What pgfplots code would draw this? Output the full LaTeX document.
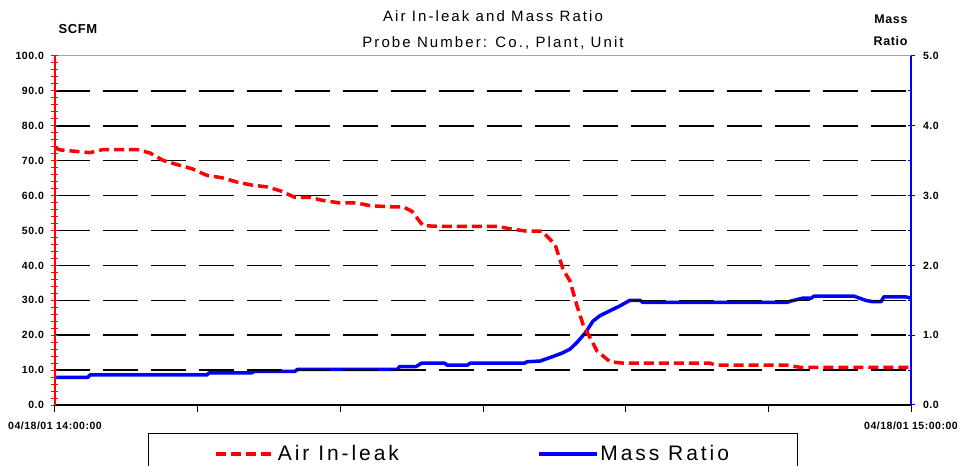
\documentclass[border=0pt]{standalone}
\usepackage{fontspec}
\setmainfont{Liberation Sans}
\newfontfamily\titlefont[LetterSpace=14]{Liberation Sans}
\newfontfamily\tickfont[LetterSpace=5]{Liberation Sans}
\newfontfamily\legfont[LetterSpace=14]{Liberation Sans}
\usepackage{pgfplots}
\pgfplotsset{compat=1.18}
\usetikzlibrary{calc}
\begin{document}
\begin{tikzpicture}
% ---------- right axis: Mass Ratio ----------
\begin{axis}[
  name=blueax,
  scale only axis, width=856pt, height=349pt,
  xmin=0, xmax=60, ymin=0, ymax=5,
  axis x line=none,
  axis y line*=right,
  y axis line style={blue, line width=1.6pt, -},
  ytick={0,1,2,3,4,5},
  minor ytick={0.5,1.5,2.5,3.5,4.5},
  tick align=center,
  major tick length=7pt,
  minor tick length=3pt,
  major y tick style={blue, line width=1pt},
  minor y tick style={blue, line width=1pt, xshift=-1.5pt},
  /pgf/number format/assume math mode=true,
  /pgf/number format/.cd, fixed, fixed zerofill, precision=1, /pgfplots/.cd,
  yticklabel style={font=\tickfont\bfseries\fontsize{10.5}{12}\selectfont, black, xshift=5pt},
  clip=false,
]
\addplot[blue, line width=3.5pt, line join=round] coordinates {
(0,0.395)(2.3,0.395)(2.45,0.43)(10.65,0.43)(10.8,0.46)(13.8,0.46)(13.95,0.48)(16.8,0.48)(17.0,0.51)(24.0,0.51)(24.15,0.55)(25.3,0.55)(25.7,0.60)(27.3,0.60)(27.5,0.57)(28.9,0.57)(29.1,0.60)(32.9,0.60)(33.1,0.62)(34.0,0.63)(34.7,0.68)(35.5,0.74)(36.1,0.80)(36.6,0.90)(37.2,1.04)(37.7,1.20)(38.2,1.28)(38.9,1.35)(39.6,1.42)(40.3,1.50)(41.0,1.50)(41.2,1.47)(51.3,1.47)(51.6,1.49)(52.4,1.53)(53.0,1.53)(53.2,1.56)(56.0,1.56)(56.4,1.53)(56.8,1.50)(57.3,1.48)(57.9,1.48)(58.1,1.55)(59.6,1.55)(60,1.53)
};
\end{axis}
% ---------- left axis: SCFM ----------
\begin{axis}[
  name=redax,
  scale only axis, width=856pt, height=349pt,
  xmin=0, xmax=60, ymin=0, ymax=100,
  axis x line*=bottom,
  axis y line*=left,
  x axis line style={black, line width=1.2pt, -},
  y axis line style={red, line width=1.6pt, -},
  xtick={0,10,20,30,40,50,60},
  xticklabels={04/18/01 14:00:00,,,,,,04/18/01 15:00:00},
  ytick={0,10,20,30,40,50,60,70,80,90},
  minor ytick={2,4,6,8,12,14,16,18,22,24,26,28,32,34,36,38,42,44,46,48,52,54,56,58,62,64,66,68,72,74,76,78,82,84,86,88,92,94,96,98},
  extra y ticks={100},
  extra y tick style={grid=major, major grid style={gray!70, solid, line width=1pt}},
  tick align=center,
  major tick length=7pt,
  minor tick length=7pt,
  major x tick style={black, line width=1pt, yshift=-3.5pt},
  major y tick style={red, line width=1pt},
  minor y tick style={red, line width=1pt},
  ymajorgrids,
  major grid style={black, line width=1.5pt, dash pattern=on 35pt off 13pt},
  /pgf/number format/assume math mode=true,
  /pgf/number format/.cd, fixed, fixed zerofill, precision=1, /pgfplots/.cd,
  yticklabel style={font=\tickfont\bfseries\fontsize{10.5}{12}\selectfont, black, xshift=-4pt},
  xticklabel style={font=\tickfont\bfseries\fontsize{10.5}{12}\selectfont, black, yshift=-10pt},
  clip=false,
  legend columns=2,
  legend image code/.code={\draw[#1] (0pt,0pt) -- (58pt,0pt);},
  legend style={at={(0.1086,-0.0802)}, anchor=north west, draw=black, line width=1pt,
    inner xsep=66pt, inner ysep=10pt,
    font=\legfont\fontsize{21}{24}\selectfont,
    /tikz/every even column/.append style={column sep=136pt}},
]
\addplot[red, line width=3.5pt, dash pattern=on 10pt off 5pt] coordinates {
(0,73.7)(0.35,73.1)(2.45,72.3)(3.36,73.2)(5.75,73.2)(6.66,72.2)(7.57,70.1)(8.55,68.9)(9.60,67.7)(10.65,65.8)(11.71,65.1)(12.83,63.8)(13.81,63.0)(14.86,62.5)(15.77,61.4)(16.82,59.5)(17.87,59.5)(18.78,58.6)(19.98,57.9)(21.17,57.9)(22.08,57.1)(23.48,56.8)(24.39,56.8)(25.02,55.5)(25.79,51.4)(26.78,51.2)(29.09,51.2)(30.98,51.2)(31.89,50.5)(33.08,49.8)(34.13,49.8)(35.05,46.0)(35.61,38.9)(36.10,35.5)(36.59,28.4)(37.01,23.1)(37.99,15.5)(38.90,12.4)(39.81,12.0)(45.91,12.0)(46.3,11.4)(51.31,11.4)(52.22,10.8)(60,10.8)
};
\addlegendentry{Air In-leak}
\addlegendimage{blue, solid, line width=3.5pt}
\addlegendentry{Mass Ratio}
\node[anchor=base, yshift=34pt, font=\titlefont\fontsize{15}{17}\selectfont] at (rel axis cs:0.5117,1) {Air In-leak and Mass Ratio};
\node[anchor=base, yshift=8.5pt, font=\titlefont\fontsize{15}{17}\selectfont] at (rel axis cs:0.5117,1) {Probe Number: Co., Plant, Unit};
\node[anchor=base west, yshift=22pt, font=\tickfont\bfseries\fontsize{13}{15}\selectfont] at (rel axis cs:0,1) {SCFM};
\node[anchor=base east, yshift=32pt, font=\tickfont\bfseries\fontsize{12.5}{14}\selectfont] at (rel axis cs:1,1) {Mass};
\node[anchor=base east, yshift=10pt, font=\tickfont\bfseries\fontsize{12.5}{14}\selectfont] at (rel axis cs:1,1) {Ratio};
\end{axis}
\pgfresetboundingbox
\path[use as bounding box] ($(redax.south west)+(-55pt,-61pt)$) rectangle ($(redax.north east)+(48pt,56pt)$);
\end{tikzpicture}
\end{document}
